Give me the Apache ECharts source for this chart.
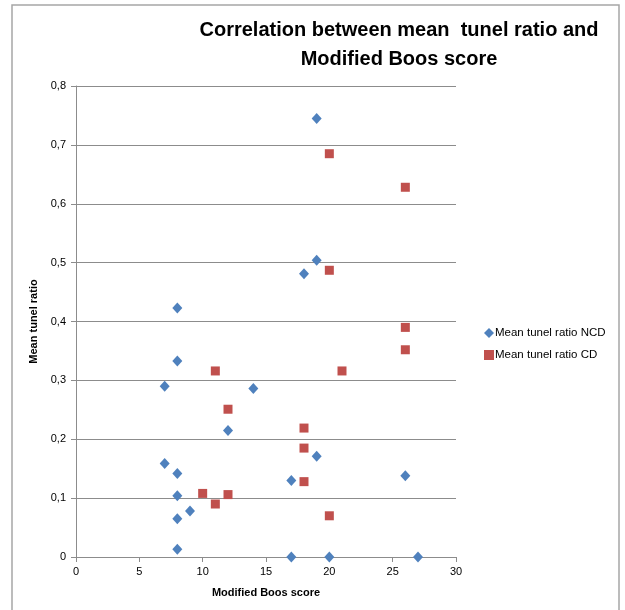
<!DOCTYPE html>
<html>
<head>
<meta charset="utf-8">
<script src="https://cdn.jsdelivr.net/npm/echarts@6/dist/echarts.min.js"></script>
<style>
  html, body { margin: 0; padding: 0; background: #fff; }
  #chart { width: 625px; height: 610px; }
</style>
</head>
<body>
<div id="chart"></div>
<script>
// Modified Boos score / mean tunel ratio
const ncdScore = [19, 8, 18, 19, 8, 7, 14, 12, 7, 8, 19, 17, 26, 8, 9, 8, 8, 17, 20, 27]
const ncdRatio = [0.745, 0.423, 0.481, 0.504, 0.333, 0.290, 0.286, 0.215, 0.159, 0.142, 0.171, 0.130, 0.138, 0.104, 0.078, 0.065, 0.013, 0, 0, 0]

const cdScore = [20, 26, 20, 26, 26, 11, 21, 12, 18, 18, 18, 10, 12, 11, 20]
const cdRatio = [0.685, 0.628, 0.487, 0.390, 0.352, 0.316, 0.316, 0.251, 0.219, 0.185, 0.128, 0.108, 0.106, 0.090, 0.070]

const xTicks = [0, 5, 10, 15, 20, 25, 30]
const yTicks = [0, 0.1, 0.2, 0.3, 0.4, 0.5, 0.6, 0.7, 0.8]

const toPairs = (xs, ys) => xs.map((x, i) => [x, ys[i]])

const chart = echarts.init(document.getElementById('chart'))
const font = '"Liberation Sans", Arial, sans-serif'

const option = {
  backgroundColor: '#fff',
  animation: false,
  textStyle: { fontFamily: font },
  // outer chart frame
  graphic: [{
    type: 'rect',
    shape: { x: 12, y: 5, width: 607, height: 620 },
    style: { fill: 'none', stroke: '#a6a6a6', lineWidth: 1.5 },
    silent: true,
  }],
  title: {
    text: 'Correlation between mean  tunel ratio and\nModified Boos score',
    left: 394,
    top: 11,
    textAlign: 'center',
    textStyle: {
      fontFamily: font,
      fontSize: 20,
      fontWeight: 'bold',
      color: '#000',
      lineHeight: 29,
    },
  },
  legend: {
    orient: 'vertical',
    left: 479,
    top: 322,
    itemGap: 10,
    itemWidth: 10,
    itemHeight: 10,
    textStyle: { fontSize: 11.5, color: '#000', padding: [0, 0, 0, -4] },
    data: [
      { name: 'Mean tunel ratio NCD', icon: 'diamond' },
      { name: 'Mean tunel ratio CD', icon: 'rect' },
    ],
  },
  grid: { left: 76, right: 169, top: 86, bottom: 53 },
  xAxis: {
    type: 'value',
    min: 0,
    max: 30,
    interval: 5,
    name: 'Modified Boos score',
    nameLocation: 'middle',
    nameGap: 30,
    nameTextStyle: { fontSize: 11, fontWeight: 'bold', color: '#000' },
    axisLine: { show: true, lineStyle: { color: '#8c8c8c', width: 1 } },
    axisTick: { show: true, length: 5, lineStyle: { color: '#8c8c8c' } },
    axisLabel: { fontSize: 11, color: '#000', margin: 9, formatter: v => xTicks.includes(v) ? String(v) : '' },
    splitLine: { show: false },
  },
  yAxis: {
    type: 'value',
    min: 0,
    max: 0.8,
    interval: 0.1,
    name: 'Mean tunel ratio',
    nameLocation: 'middle',
    nameGap: 36,
    nameTextStyle: { fontSize: 11, fontWeight: 'bold', color: '#000' },
    axisLine: { show: true, lineStyle: { color: '#8c8c8c', width: 1 } },
    axisTick: { show: true, length: 5, lineStyle: { color: '#8c8c8c' } },
    axisLabel: {
      fontSize: 11,
      color: '#000',
      margin: 10,
      formatter: v => {
        const t = yTicks.find(y => Math.abs(y - v) < 1e-9)
        if (t === undefined) return ''
        return t === 0 ? '0' : t.toFixed(1).replace('.', ',')
      },
    },
    splitLine: { show: true, lineStyle: { color: '#8c8c8c', width: 1 } },
  },
  series: [
    {
      name: 'Mean tunel ratio NCD',
      type: 'scatter',
      symbol: 'diamond',
      symbolSize: [10, 11],
      itemStyle: { color: '#4f81bd', opacity: 1 },
      data: toPairs(ncdScore, ncdRatio),
      z: 3,
    },
    {
      name: 'Mean tunel ratio CD',
      type: 'scatter',
      symbol: 'rect',
      symbolSize: 9,
      itemStyle: { color: '#c0504d', opacity: 1 },
      data: toPairs(cdScore, cdRatio),
      z: 2,
    },
  ],
}

chart.setOption(option)
</script>
</body>
</html>
